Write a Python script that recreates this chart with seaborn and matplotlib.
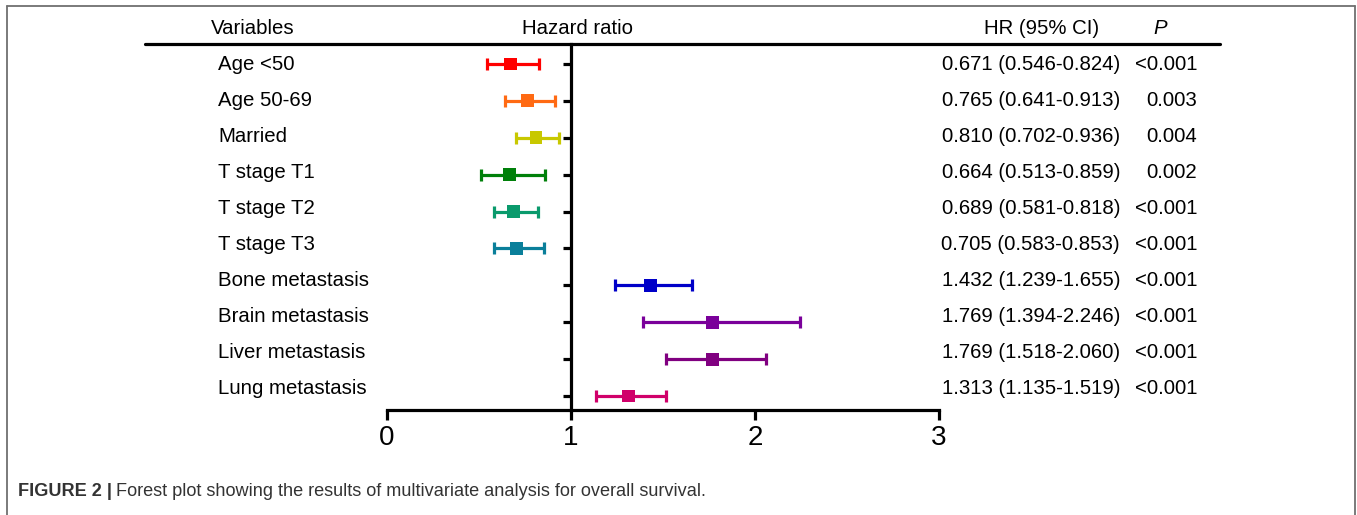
import matplotlib
matplotlib.use("Agg")
import matplotlib.pyplot as plt
from matplotlib.lines import Line2D
import seaborn as sns
import pandas as pd

# ---- data ----
variables = ["Age <50", "Age 50-69", "Married", "T stage T1", "T stage T2",
             "T stage T3", "Bone metastasis", "Brain metastasis",
             "Liver metastasis", "Lung metastasis"]
hr = [0.671, 0.765, 0.810, 0.664, 0.689, 0.705, 1.432, 1.769, 1.769, 1.313]
ci_low = [0.546, 0.641, 0.702, 0.513, 0.581, 0.583, 1.239, 1.394, 1.518, 1.135]
ci_high = [0.824, 0.913, 0.936, 0.859, 0.818, 0.853, 1.655, 2.246, 2.060, 1.519]
p_values = ["<0.001", "0.003", "0.004", "0.002", "<0.001", "<0.001",
            "<0.001", "<0.001", "<0.001", "<0.001"]
x_ticks = [0, 1, 2, 3]
colors = ["#ff0000", "#ff6a13", "#c8c800", "#00800a", "#0a9a6c", "#0a7f9a",
          "#0000c8", "#7a009a", "#800080", "#d0006a"]

df = pd.DataFrame({"variable": variables, "hr": hr, "lo": ci_low, "hi": ci_high,
                   "row": range(len(variables))})

sns.set_style("white")
plt.rcParams["font.family"] = ["Liberation Sans", "DejaVu Sans"]
plt.rcParams["text.color"] = "black"
plt.rcParams["xtick.color"] = "black"
plt.rcParams["ytick.color"] = "black"

W, H = 1357, 515
fig = plt.figure(figsize=(W / 100, H / 100), dpi=100)

def fx(px):
    return px / W

def fy(py):
    return 1 - py / H

# main axes: x 0..3 spans px 387..939, y spans px 44..410
ax = fig.add_axes([fx(387), fy(410), fx(939) - fx(387), fy(44) - fy(410)])
ax.set_xlim(0, 3)
row_px = 36.9
ax.set_ylim(9 + (410 - 396) / row_px, -(64 - 44) / row_px)

for i, r in df.iterrows():
    ax.errorbar(r["hr"], r["row"],
                xerr=[[r["hr"] - r["lo"]], [r["hi"] - r["hr"]]],
                fmt="none", ecolor=colors[i], elinewidth=2.3,
                capsize=4.3, capthick=2.3, zorder=2)

sns.scatterplot(data=df, x="hr", y="row", hue="variable", palette=colors,
                marker="s", s=85, linewidth=0, legend=False, ax=ax, zorder=3)

ax.spines["top"].set_visible(False)
ax.spines["right"].set_visible(False)
ax.spines["left"].set_position(("data", 1))
for s in ("left", "bottom"):
    ax.spines[s].set_linewidth(2.3)
    ax.spines[s].set_color("black")

ax.set_xticks(x_ticks)
ax.set_xticklabels([str(t) for t in x_ticks], fontsize=20)
ax.set_yticks(df["row"])
ax.set_yticklabels([])
ax.tick_params(axis="x", direction="out", length=7, width=2.3, pad=4,
               bottom=True, colors="black")
ax.tick_params(axis="y", direction="out", length=6, width=2.3, left=True)
ax.set_xlabel("")
ax.set_ylabel("")
ax.patch.set_alpha(0)

# header line
fig.add_artist(Line2D([fx(145), fx(1220)], [fy(44), fy(44)], color="black",
                      lw=2.3, transform=fig.transFigure))

# headers
hdr_y = fy(29)
fs = 14.7
fig.text(fx(253), hdr_y, "Variables", ha="center", va="center", fontsize=fs)
fig.text(fx(578), hdr_y, "Hazard ratio", ha="center", va="center", fontsize=fs)
fig.text(fx(1042), hdr_y, "HR (95% CI)", ha="center", va="center", fontsize=fs)
fig.text(fx(1160), hdr_y, "P", ha="center", va="center", fontsize=fs,
         style="italic")

# row texts
for i, name in enumerate(variables):
    y = fy(64.5 + 36 * i)
    fig.text(fx(218), y, name, ha="left", va="center", fontsize=fs)
    fig.text(fx(1120), y, f"{hr[i]:.3f} ({ci_low[i]:.3f}-{ci_high[i]:.3f})",
             ha="right", va="center", fontsize=fs)
    fig.text(fx(1197), y, p_values[i], ha="right", va="center", fontsize=fs)

# caption
cap_y = fy(492)
cap_fs = 13.1
t1 = fig.text(fx(18), cap_y, "FIGURE 2 |", ha="left", va="center",
              fontsize=cap_fs, fontweight="bold", color="#333333")
fig.canvas.draw()
bb = t1.get_window_extent()
fig.text(bb.x1 / W + fx(4), cap_y,
         "Forest plot showing the results of multivariate analysis for overall survival.",
         ha="left", va="center", fontsize=cap_fs, color="#333333")

# frame border (left, top, right)
bc = "#707070"
fig.add_artist(Line2D([fx(7), fx(7)], [0, fy(6)], color=bc, lw=1.3))
fig.add_artist(Line2D([fx(7), fx(1355)], [fy(6), fy(6)], color=bc, lw=1.3))
fig.add_artist(Line2D([fx(1355), fx(1355)], [fy(6), 0], color=bc, lw=1.3))

fig.savefig("out.png", dpi=100)
